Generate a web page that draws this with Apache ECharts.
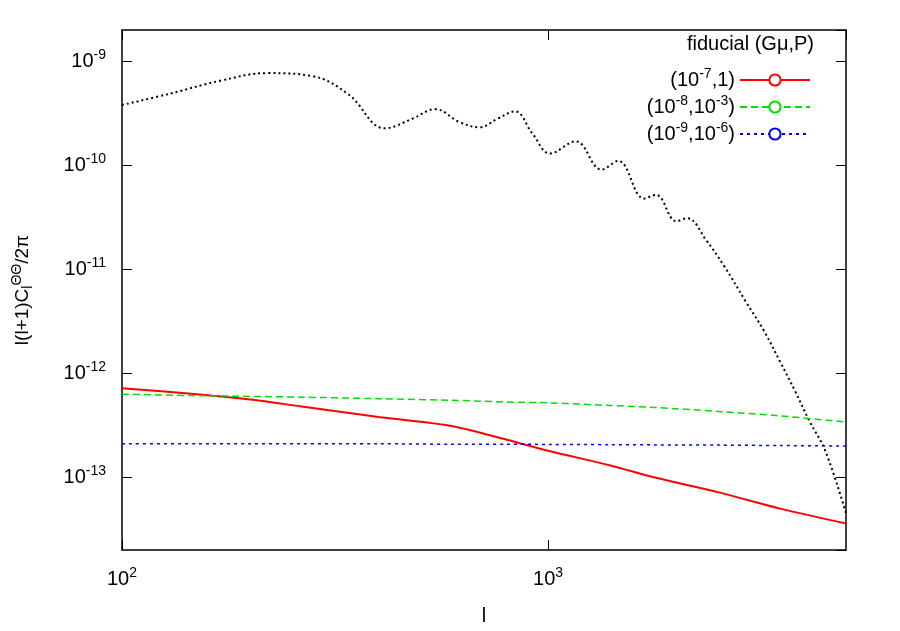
<!DOCTYPE html>
<html>
<head>
<meta charset="utf-8">
<script src="https://cdn.jsdelivr.net/npm/echarts@6/dist/echarts.min.js"></script>
<style>html,body{margin:0;background:#fff}#chart{width:900px;height:631px}</style>
</head>
<body>
<div id="chart"></div>
<script>
// values
const fiducialL = [100, 130, 170, 220, 280, 340, 414, 480, 543, 620, 690, 760, 835, 920, 1010, 1160, 1335, 1460, 1680, 1790, 2000, 2120, 2350, 2590, 2900, 3220, 3500, 3800, 4100, 4470, 5000];
const fiducialC = [3.8e-10, 4.9e-10, 6.5e-10, 7.7e-10, 7.2e-10, 4.8e-10, 2.27e-10, 2.8e-10, 3.46e-10, 2.6e-10, 2.32e-10, 2.8e-10, 3.3e-10, 2.0e-10, 1.3e-10, 1.7e-10, 9.1e-11, 1.1e-10, 4.8e-11, 5.2e-11, 2.9e-11, 3.1e-11, 1.9e-11, 1.07e-11, 5.0e-12, 2.5e-12, 1.3e-12, 6.7e-13, 3.5e-13, 1.8e-13, 4.5e-14];

const stringL = [100, 150, 200, 264, 400, 596, 800, 1000, 1400, 1770, 2500, 3500, 5000];
const red = [7.2e-13, 6.3e-13, 5.6e-13, 4.8e-13, 3.8e-13, 3.1e-13, 2.3e-13, 1.8e-13, 1.3e-13, 1.0e-13, 7.2e-14, 5.0e-14, 3.6e-14];
const green = [6.3e-13, 6.1e-13, 6.0e-13, 5.9e-13, 5.7e-13, 5.5e-13, 5.3e-13, 5.2e-13, 4.9e-13, 4.7e-13, 4.3e-13, 3.9e-13, 3.4e-13];
const blue = [2.1e-13, 2.1e-13, 2.1e-13, 2.1e-13, 2.1e-13, 2.08e-13, 2.08e-13, 2.07e-13, 2.06e-13, 2.05e-13, 2.04e-13, 2.02e-13, 2.0e-13];

const legendNames = ['(10^-7,1)', '(10^-8,10^-3)', '(10^-9,10^-6)'];
const legendLabels = ['(10{s|-7},1)', '(10{s|-8},10{s|-3})', '(10{s|-9},10{s|-6})'];

const pair = (xs, ys) => xs.map((x, i) => [x, ys[i]]);
const font = 'Liberation Sans';
const sup = { fontSize: 14, verticalAlign: 'top', padding: [0, 0, 12, 0], fontFamily: font };

const chart = echarts.init(document.getElementById('chart'));

const axisCommon = {
    type: 'log',
    logBase: 10,
    axisLine: { show: true, onZero: false, lineStyle: { color: '#000', width: 1.5 } },
    axisTick: { show: true, inside: true, length: 10, lineStyle: { color: '#000' } },
    splitLine: { show: false },
    axisLabel: {
        color: '#000',
        fontFamily: font,
        fontSize: 20,
        formatter: (v) => '10{s|' + Math.round(Math.log10(v)) + '}',
        rich: { s: sup }
    }
};

const xRange = { min: 100, max: 5000 };
const yRange = { min: 2e-14, max: 2e-9 };

const option = {
    animation: false,
    backgroundColor: '#fff',
    grid: { left: 122, right: 54, top: 30, bottom: 81 },
    xAxis: [
        Object.assign({}, axisCommon, xRange, {
            name: 'l', nameLocation: 'middle', nameGap: 56,
            nameTextStyle: { color: '#000', fontSize: 20, fontFamily: font },
            axisLabel: Object.assign({}, axisCommon.axisLabel, { margin: 16, showMaxLabel: false })
        }),
        Object.assign({}, axisCommon, xRange, { position: 'top', axisLabel: { show: false } })
    ],
    yAxis: [
        Object.assign({}, axisCommon, yRange, {
            name: 'l(l+1)C{b|l}{s|ΘΘ}/2π', nameLocation: 'middle', nameGap: 86, nameRotate: 90,
            nameTextStyle: {
                color: '#000', fontSize: 19, fontFamily: font,
                rich: { s: sup, b: { fontSize: 14, padding: [10, 0, 0, 0], fontFamily: font } }
            },
            axisLabel: Object.assign({}, axisCommon.axisLabel, { margin: 16, showMinLabel: false, showMaxLabel: false })
        }),
        Object.assign({}, axisCommon, yRange, { position: 'right', axisLabel: { show: false } })
    ],
    legend: {
        top: 62, right: 84,
        orient: 'vertical',
        align: 'right',
        itemWidth: 70, itemHeight: 14, itemGap: 4,
        data: legendNames,
        formatter: (name) => legendLabels[legendNames.indexOf(name)],
        textStyle: { color: '#000', fontSize: 20, fontFamily: font, rich: { s: sup } }
    },
    graphic: [{
        type: 'text', right: 86, top: 34,
        style: { text: 'fiducial (Gμ,P)', font: '20px "Liberation Sans"', fill: '#000' }
    }],
    series: [
        { name: 'fiducial', type: 'line', data: pair(fiducialL, fiducialC), smooth: 0.4, showSymbol: false,
          lineStyle: { color: '#000', width: 2, type: [2, 3] } },
        { name: legendNames[0], type: 'line', data: pair(stringL, red), smooth: 0.3, showSymbol: false,
          color: '#f00', lineStyle: { color: '#f00', width: 2 } },
        { name: legendNames[1], type: 'line', data: pair(stringL, green), smooth: 0.3, showSymbol: false,
          color: '#0d0', lineStyle: { color: '#0d0', width: 1.5, type: [7, 4] } },
        { name: legendNames[2], type: 'line', data: pair(stringL, blue), smooth: 0.3, showSymbol: false,
          color: '#00f', lineStyle: { color: '#00f', width: 1.5, type: [3, 4] } }
    ]
};

chart.setOption(option);
</script>
</body>
</html>
